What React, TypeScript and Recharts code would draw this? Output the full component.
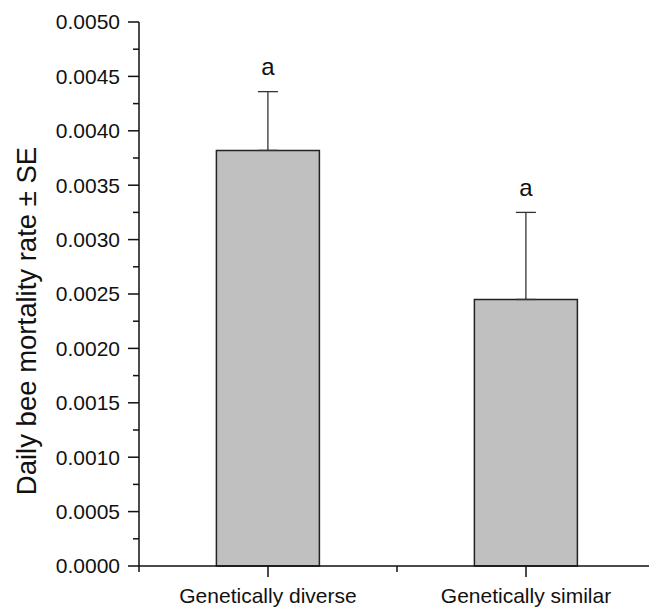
import React from 'react';
import { BarChart, Bar, XAxis, YAxis, ErrorBar, LabelList, Label } from 'recharts';

const groups = ['Genetically diverse', 'Genetically similar'];
const mortality = [0.00382, 0.00245];
const standardError = [0.00054, 0.0008];
const letters = ['a', 'a'];
const yTicks = [
  0, 0.00025, 0.0005, 0.00075, 0.001, 0.00125, 0.0015, 0.00175, 0.002, 0.00225, 0.0025,
  0.00275, 0.003, 0.00325, 0.0035, 0.00375, 0.004, 0.00425, 0.0045, 0.00475, 0.005,
];

const data = groups.map((group, i) => ({
  group,
  rate: mortality[i],
  err: [0, standardError[i]],
  letter: letters[i],
}));

const FONT = '"Liberation Sans", Arial, Helvetica, sans-serif';
const INK = '#111';

// major ticks every 0.0005 carry a label, the ones in between are short
const YTick = (props: any) => {
  const { x, y, payload } = props;
  const v = payload.value as number;
  const major = Math.round(v * 10000) % 5 === 0;
  return (
    <g>
      <line x1={x - (major ? 11 : 6)} x2={x} y1={y} y2={y} stroke={INK} strokeWidth={1.5} />
      {major && (
        <text x={x - 19} y={y} dy="0.35em" textAnchor="end" fontSize={21} fontFamily={FONT} fill={INK}>
          {v.toFixed(4)}
        </text>
      )}
    </g>
  );
};

const XTick = (props: any) => {
  const { x, y, payload } = props;
  const half = payload.offset ?? 129;
  return (
    <g>
      <line x1={x} x2={x} y1={y} y2={y + 11} stroke={INK} strokeWidth={1.5} />
      <line x1={x - half} x2={x - half} y1={y} y2={y + 6} stroke={INK} strokeWidth={1.5} />
      <text x={x} y={y + 37} textAnchor="middle" fontSize={21} fontFamily={FONT} fill={INK}>
        {payload.value}
      </text>
    </g>
  );
};

// significance letter sits above the top of the error bar
const renderLetter = (props: any) => {
  const { x, y, width, height, value, index } = props;
  const top = y - standardError[index] * (height / mortality[index]);
  return (
    <text x={x + width / 2} y={top - 16.5} textAnchor="middle" fontSize={24} fontFamily={FONT} fill={INK}>
      {value}
    </text>
  );
};

const renderYTitle = (props: any) => {
  const vb = props.viewBox || { x: 0, y: 22, height: 544 };
  const cx = vb.x + 36;
  const cy = vb.y + vb.height / 2 + 27;
  return (
    <text
      x={cx}
      y={cy}
      transform={`rotate(-90, ${cx}, ${cy})`}
      textAnchor="middle"
      fontSize={27.5}
      fontFamily={FONT}
      fill={INK}
    >
      Daily bee mortality rate ± SE
    </text>
  );
};

export default function App() {
  return (
    <div style={{ position: 'fixed', left: 0, top: 0, width: 649, height: 610, overflow: 'hidden', background: '#fff' }}>
      <BarChart
        width={660}
        height={610}
        data={data}
        margin={{ top: 22, right: 5, bottom: 0, left: 0 }}
        barCategoryGap="30%"
      >
        <XAxis
          dataKey="group"
          height={44}
          tickLine={false}
          tickSize={0}
          tickMargin={0}
          axisLine={{ stroke: INK, strokeWidth: 1.5 }}
          tick={<XTick />}
          interval={0}
        />
        <YAxis
          width={139}
          domain={[0, 0.005]}
          ticks={yTicks}
          interval={0}
          tickLine={false}
          tickSize={0}
          tickMargin={0}
          axisLine={{ stroke: INK, strokeWidth: 1.5 }}
          tick={<YTick />}
        >
          <Label content={renderYTitle} />
        </YAxis>
        <Bar dataKey="rate" fill="#c0c0c0" stroke="#222" strokeWidth={1.5} isAnimationActive={false}>
          <ErrorBar dataKey="err" direction="y" width={10} stroke="#333" strokeWidth={1.3} />
          <LabelList dataKey="letter" content={renderLetter} />
        </Bar>
      </BarChart>
    </div>
  );
}
